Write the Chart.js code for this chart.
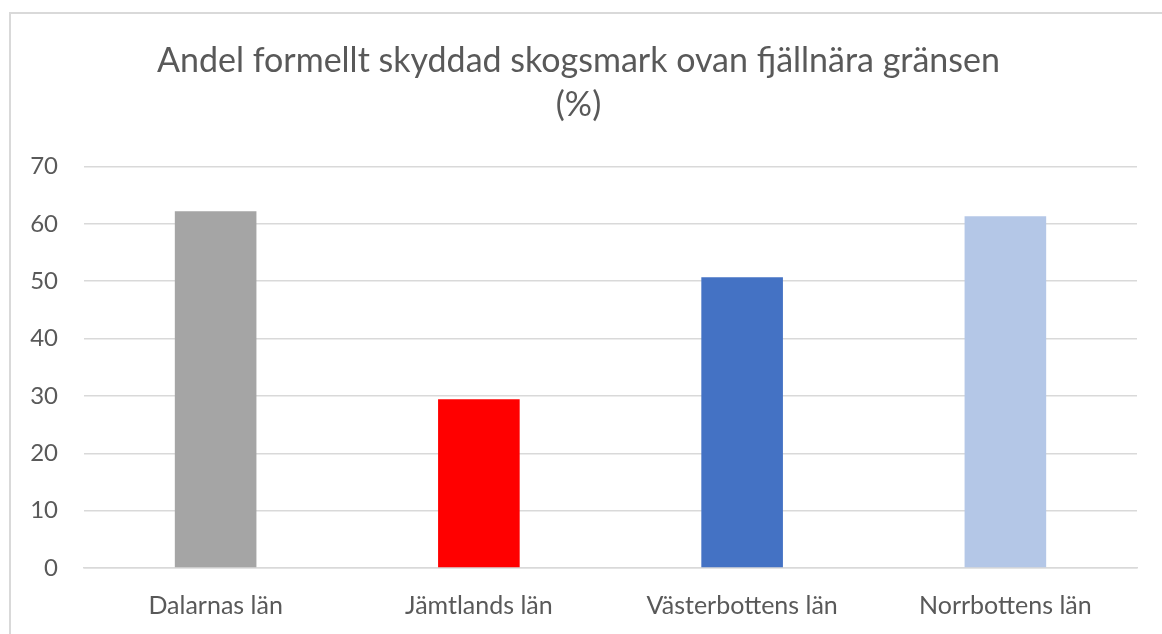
<!DOCTYPE html>
<html>
<head>
<meta charset="utf-8">
<script src="https://cdn.jsdelivr.net/npm/chart.js@4"></script>
<style>
  html, body { margin: 0; padding: 0; background: #fff; }
  #wrap { position: relative; width: 1162px; height: 634px; }
</style>
</head>
<body>
<div id="wrap"><canvas id="chart" width="1162" height="634"></canvas></div>
<script>
// --- data ---
const titleLines = ['Andel formellt skyddad skogsmark ovan fjällnära gränsen', '(%)'];
const categories = ['Dalarnas län', 'Jämtlands län', 'Västerbottens län', 'Norrbottens län'];
const values = [62.2, 29.4, 50.7, 61.3];
const barColors = ['#a5a5a5', '#ff0000', '#4472c4', '#b4c7e7'];
const yMin = 0, yMax = 70, yStep = 10;

const textColor = '#595959';
const gridColor = '#d9d9d9';
const fontFamily = 'Lato, "Open Sans", sans-serif';

// outer frame like the spreadsheet chart box
const framePlugin = {
    id: 'frame',
    beforeDraw(chart) {
        const ctx = chart.ctx;
        ctx.save();
        ctx.fillStyle = '#fff';
        ctx.fillRect(0, 0, chart.width, chart.height);
        ctx.strokeStyle = gridColor;
        ctx.lineWidth = 2;
        ctx.strokeRect(10, 13, chart.width + 20, chart.height + 20);
        ctx.restore();
    }
};

new Chart(document.getElementById('chart'), {
    type: 'bar',
    data: {
        labels: categories,
        datasets: [{
            data: values,
            backgroundColor: barColors,
            borderWidth: 0,
            barPercentage: 0.31,
            categoryPercentage: 1.0
        }]
    },
    options: {
        responsive: false,
        animation: false,
        layout: { padding: { left: 20, right: 25, top: 39, bottom: 13 } },
        plugins: {
            legend: { display: false },
            tooltip: { enabled: false },
            title: {
                display: true,
                text: titleLines,
                color: textColor,
                font: { family: fontFamily, size: 34, weight: 'normal', lineHeight: 1.3 },
                padding: { top: 0, bottom: 39 }
            }
        },
        scales: {
            x: {
                grid: { display: false, drawTicks: false },
                border: { display: true, color: gridColor, width: 1.5 },
                ticks: { color: textColor, font: { family: fontFamily, size: 25 }, padding: 23, maxRotation: 0 },
                afterFit(scale) { scale.height = 53; }
            },
            y: {
                min: yMin,
                max: yMax,
                grid: { color: gridColor, lineWidth: 1.5, drawTicks: false },
                border: { display: false },
                ticks: { stepSize: yStep, color: textColor, font: { family: fontFamily, size: 24 }, padding: 26 },
                afterFit(scale) { scale.width = 64; }
            }
        }
    },
    plugins: [framePlugin]
});
</script>
</body>
</html>
